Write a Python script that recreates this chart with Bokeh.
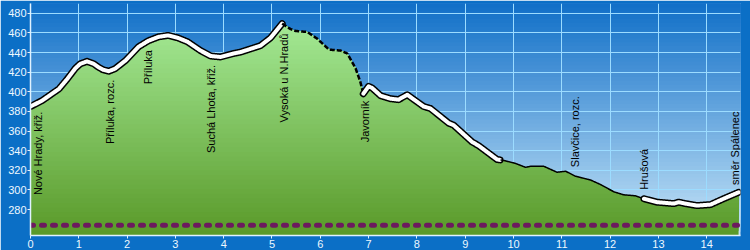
import numpy as np
from bokeh.plotting import figure
from bokeh.models import ColumnDataSource, FixedTicker, Range1d
from bokeh.core.properties import value
from bokeh.embed import file_html
from bokeh.resources import INLINE

# ---- data ----
dist_km = [0.0, 0.24, 0.59, 0.76, 0.93, 1.03, 1.17, 1.31, 1.41, 1.5, 1.62, 1.75, 1.97, 2.24,
           2.44, 2.65, 2.85, 3.05,
           3.25, 3.52, 3.73, 3.93, 4.2, 4.35, 4.76, 4.97, 5.21, 5.38, 5.49, 5.73, 5.94,
           6.18, 6.42, 6.56, 6.73, 6.83, 6.89, 7.0, 7.07, 7.25, 7.45, 7.62, 7.8, 7.97,
           8.14, 8.28, 8.66, 8.76, 9.14, 9.28, 9.66, 9.8, 10.04, 10.25, 10.35, 10.63,
           10.9, 11.08, 11.28, 11.6, 11.8, 12.08, 12.28, 12.52, 12.7, 12.97, 13.32,
           13.42, 13.56, 13.8, 14.08, 14.35, 14.66]
elev_m = [385, 391, 403, 413, 424, 428.5, 431, 428.5, 425, 422.5, 421, 423.5, 432, 446,
          452, 456, 457.5, 455,
          451, 442, 436.5, 435.5, 439, 440.5, 447, 455, 469.5, 464, 462, 461, 454,
          443, 442, 439, 424, 410, 398, 405.5, 404, 396, 393, 392, 397, 391,
          385, 383, 368, 366, 349, 345, 331, 330, 327, 323, 324, 324,
          318, 319, 314, 310, 305.5, 298, 295, 294, 291, 287.5, 286,
          287.5, 286, 284, 285, 291, 297.5]

place_names = ["Nové Hrady, křiž.", "Příluka, rozc.", "Příluka", "Suchá Lhota, křiž.",
               "Vysoká u N.Hradů", "Javorník", "Slavčice, rozc.", "Hrušová", "směr Spálenec"]
place_km = [0.16, 1.64, 2.43, 3.73, 5.24, 6.92, 11.28, 12.71, 14.58]

segment_breaks_km = [0.0, 5.21, 6.89, 9.73, 12.7, 14.66]
segment_kinds = ["road", "dashed", "road", "path", "road"]

reference_level_m = 264
x_ticks = list(range(0, 15))
y_ticks = list(range(280, 481, 20))

# ---- layout ----
X_MAX, Y_MIN, Y_MAX = 14.7, 253.5, 490.0

p = figure(width=750, height=250, x_range=Range1d(0, X_MAX), y_range=Range1d(Y_MIN, Y_MAX),
           output_backend="svg", toolbar_location=None,
           min_border_left=30, min_border_right=10, min_border_top=3, min_border_bottom=15)
p.border_fill_color = "#0b6fc6"
p.background_fill_color = "#1270c8"
p.outline_line_color = None


def mix(c1, c2, t):
    a = [int(c1[i:i + 2], 16) for i in (1, 3, 5)]
    b = [int(c2[i:i + 2], 16) for i in (1, 3, 5)]
    return "#%02x%02x%02x" % tuple(int(round(a[j] + (b[j] - a[j]) * t)) for j in range(3))


# sky gradient (bottom light -> top dark)
nb = 60
lows = np.linspace(Y_MIN, Y_MAX, nb + 1)[:-1]
sky_cols = [mix("#c6e4f7", "#1270c8", k / (nb - 1)) for k in range(nb)]
sky = p.quad(left=0, right=X_MAX, bottom=lows, top=Y_MAX, fill_color=sky_cols, line_color=None)
sky.level = "image"

# grid
p.xgrid.ticker = FixedTicker(ticks=x_ticks)
p.ygrid.ticker = FixedTicker(ticks=y_ticks)
for g in (p.xgrid, p.ygrid):
    g.grid_line_color = "#9cdcff"
    g.grid_line_width = 1

# terrain gradient fill
xd = np.linspace(dist_km[0], dist_km[-1], 1500)
xd = np.union1d(xd, dist_km)
yd = np.interp(xd, dist_km, elev_m)
ng = 50
glows = np.linspace(Y_MIN, Y_MAX, ng + 1)[:-1]
xs, ys, gcols = [], [], []
for k, lo in enumerate(glows):
    top = np.maximum(yd, lo)
    xs.append(np.concatenate([[xd[0]], xd, [xd[-1]]]))
    ys.append(np.concatenate([[lo], top, [lo]]))
    gcols.append(mix("#5a9a2a", "#aaf09e", k / (ng - 1)))
p.patches(xs, ys, fill_color=gcols, line_color=None)

# reference dotted line
p.line([0, X_MAX], [reference_level_m, reference_level_m], line_color="#6c1a5e",
       line_width=5, line_dash="3 8", line_cap="round")

# profile outline by segment
for kind, a, b in zip(segment_kinds, segment_breaks_km[:-1], segment_breaks_km[1:]):
    m = (xd >= a) & (xd <= b)
    sx, sy = xd[m], yd[m]
    if kind == "road":
        p.line(sx, sy, line_color="black", line_width=7, line_join="round", line_cap="round")
        p.line(sx, sy, line_color="white", line_width=4, line_join="round", line_cap="round")
    elif kind == "dashed":
        p.line(sx, sy, line_color="black", line_width=2.5, line_dash="5 2")
    else:
        p.line(sx, sy, line_color="black", line_width=1.5)

# place labels
pe = np.interp(place_km, dist_km, elev_m)
hi = pe > 350
src_lo = ColumnDataSource(dict(x=np.array(place_km)[hi], y=pe[hi], t=np.array(place_names)[hi]))
src_hi = ColumnDataSource(dict(x=np.array(place_km)[~hi], y=pe[~hi], t=np.array(place_names)[~hi]))
common = dict(angle=np.pi / 2, text_font=value("Liberation Sans"), text_font_size="11px",
              text_color="black", text_baseline="middle")
p.text(x="x", y="y", text="t", source=src_lo, text_align="right", y_offset=9, **common)
p.text(x="x", y="y", text="t", source=src_hi, text_align="left", y_offset=-9, **common)

# axes
p.xaxis.ticker = FixedTicker(ticks=x_ticks)
p.yaxis.ticker = FixedTicker(ticks=y_ticks)
for ax in (p.xaxis[0], p.yaxis[0]):
    ax.axis_line_color = "#e0f2ff"
    ax.axis_line_width = 1.5
    ax.major_tick_line_color = "#e0f2ff"
    ax.major_tick_in = 0
    ax.major_tick_out = 3
    ax.minor_tick_line_color = None
    ax.major_label_text_color = "#eef8ff"
    ax.major_label_text_font = "Liberation Sans"
    ax.major_label_text_font_size = "11px"
    ax.major_label_standoff = 1

open("out.html", "w").write(file_html(p, INLINE))
